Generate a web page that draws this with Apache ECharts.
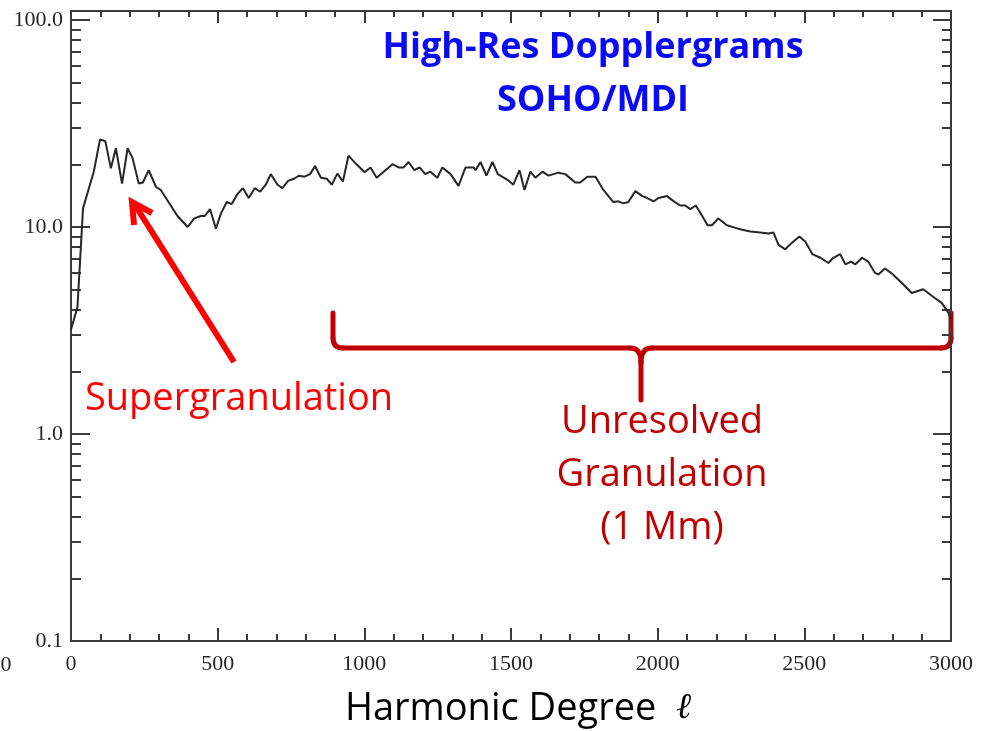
<!DOCTYPE html>
<html>
<head>
<meta charset="utf-8">
<script src="https://cdn.jsdelivr.net/npm/echarts@6/dist/echarts.min.js"></script>
<style>
  html, body { margin: 0; padding: 0; background: #fff; }
  #chart { width: 997px; height: 731px; }
</style>
</head>
<body>
<div id="chart"></div>
<script>
// harmonic degree (l) and power
const degrees = [
  0, 22, 41, 78, 99, 117, 136, 153, 174, 193, 210, 231, 245, 265, 290, 306, 363, 398,
  420, 443, 456, 474, 494, 511, 531, 548, 567, 586, 606, 626, 645, 664, 681, 704,
  721, 740, 760, 778, 796, 815, 832, 852, 872, 889, 908, 927, 946, 970, 1001, 1021,
  1042, 1066, 1096, 1117, 1134, 1151, 1171, 1188, 1208, 1225, 1249, 1266, 1294, 1321,
  1345, 1373, 1379, 1396, 1416, 1437, 1455, 1488, 1508, 1529, 1546, 1566, 1583, 1607,
  1628, 1662, 1685, 1719, 1736, 1760, 1788, 1815, 1849, 1866, 1883, 1900, 1924, 1948,
  1965, 1986, 2003, 2032, 2055, 2077, 2094, 2111, 2130, 2152, 2170, 2185, 2207, 2236,
  2265, 2288, 2316, 2350, 2378, 2395, 2412, 2435, 2458, 2483, 2503, 2527, 2555, 2582,
  2599, 2622, 2640, 2659, 2674, 2697, 2718, 2741, 2752, 2775, 2802, 2836, 2866, 2905,
  2939, 2968, 2989, 3000
];
const power = [
  3.2, 4.1, 12.3, 18.6, 26.5, 26, 19.2, 24, 16.2, 24, 21.5, 16.2, 16.4, 18.8, 15.6, 15.1, 11.3, 10.0,
  11, 11.3, 11.3, 12.2, 9.8, 11.6, 13.2, 12.9, 14.4, 15.4, 13.8, 15.4, 14.8, 16, 18, 16,
  15.4, 16.7, 17.1, 17.7, 17.5, 18, 19.7, 17.3, 17.1, 16, 18.1, 16.6, 22.1, 20.3, 18.4, 19.4,
  17.3, 18.5, 20.1, 19.4, 19.4, 20.6, 18.8, 19.4, 18, 18.5, 17.3, 19.4, 18, 15.8,
  19.4, 19.4, 18.8, 20.6, 17.7, 20.6, 18, 16.9, 16, 18.8, 15.1, 18.5, 17.3, 18.5,
  17.7, 18.3, 18, 16.4, 16.4, 17.5, 17.5, 15.1, 13.2, 13.3, 13, 13.2, 14.9, 14.1,
  13.8, 13.3, 13.8, 14.1, 13.3, 12.7, 12.7, 12.2, 12.7, 11.3, 10.2, 10.2, 11, 10.2,
  9.9, 9.7, 9.5, 9.4, 9.3, 9.4, 8.2, 7.8, 8.4, 9.0, 8.5, 7.4, 7.1, 6.7,
  7.1, 7.4, 6.6, 6.8, 6.6, 7.1, 6.8, 6.0, 5.9, 6.3, 5.9, 5.3, 4.8, 5.0,
  4.6, 4.3, 3.9, 3.6
];
const yTickValues = [0.1, 1, 10, 100];
const yTickLabels = ['0.1', '1.0', '10.0', '100.0'];
const xTickLabels = ['0', '500', '1000', '1500', '2000', '2500', '3000'];

const log10 = Math.log10;
const yMin = -1;
const yMax = log10(110.5);

// minor log ticks 2..9 in every decade
const minorVals = [];
[0.1, 1, 10].forEach(d => {
  for (let k = 2; k <= 9; k++) minorVals.push(log10(k * d));
});
const majorVals = yTickValues.map(v => log10(v));

const axisColor = '#3a3a3a';
const tickFont = { fontFamily: 'Liberation Serif', fontSize: 22, color: '#262626' };

function yAxisDef(position, isMinor, len, withLabel) {
  return {
    type: 'value',
    position: position,
    min: yMin,
    max: yMax,
    interval: 1,
    axisLine: { show: !isMinor, lineStyle: { color: axisColor, width: 2 } },
    axisTick: {
      show: true,
      inside: true,
      length: len,
      customValues: isMinor ? minorVals : majorVals,
      lineStyle: { color: axisColor, width: 2 }
    },
    axisLabel: withLabel ? Object.assign({
      show: true,
      margin: 8,
      customValues: majorVals,
      formatter: v => {
        const i = majorVals.findIndex(m => Math.abs(m - v) < 1e-6);
        return i >= 0 ? yTickLabels[i] : '';
      }
    }, tickFont) : { show: false },
    splitLine: { show: false }
  };
}

function xAxisDef(position, withLabel, len, minorLen) {
  return {
    type: 'value',
    position: position,
    min: 0,
    max: 3000,
    interval: 500,
    axisLine: { show: true, onZero: false, lineStyle: { color: axisColor, width: 2 } },
    axisTick: { show: true, inside: true, length: len, lineStyle: { color: axisColor, width: 2 } },
    minorTick: { show: true, splitNumber: 5, length: minorLen, lineStyle: { color: axisColor, width: 2 } },
    axisLabel: withLabel ? Object.assign({
      show: true,
      margin: 12,
      formatter: v => xTickLabels[Math.round(v / 500)] || ''
    }, tickFont) : { show: false },
    splitLine: { show: false },
    minorSplitLine: { show: false }
  };
}

const braceColor = '#c00000';
const braceStyle = { stroke: braceColor, lineWidth: 5, fill: null, lineCap: 'round' };
function seg(x1, y1, x2, y2) {
  return { type: 'line', shape: { x1, y1, x2, y2 }, style: braceStyle };
}
function curve(x1, y1, cx, cy, x2, y2) {
  return { type: 'bezierCurve', shape: { x1, y1, cpx1: cx, cpy1: cy, x2, y2 }, style: braceStyle };
}

const chart = echarts.init(document.getElementById('chart'), null, { renderer: 'canvas' });

const option = {
  animation: false,
  backgroundColor: '#fff',
  grid: { left: 71, right: 46, top: 11, bottom: 90, outerBoundsMode: 'none' },
  xAxis: [
    xAxisDef('bottom', true, 13, 7),
    xAxisDef('top', false, 12, 6)
  ],
  yAxis: [
    yAxisDef('left', false, 19, true),
    yAxisDef('left', true, 10, false),
    yAxisDef('right', false, 18, false),
    yAxisDef('right', true, 9, false)
  ],
  series: [{
    type: 'line',
    xAxisIndex: 0,
    yAxisIndex: 0,
    data: degrees.map((l, i) => [l, log10(power[i])]),
    showSymbol: false,
    symbol: 'none',
    lineStyle: { color: '#262626', width: 2 },
    clip: false
  }],
  graphic: [
    {
      type: 'text',
      style: {
        x: 593, y: 74, text: 'High-Res Dopplergrams\nSOHO/MDI',
        fontFamily: 'Open Sans', fontWeight: 'bold', fontSize: 36, lineHeight: 53,
        fill: '#0a0af5', align: 'center', verticalAlign: 'middle'
      }
    },
    {
      type: 'text',
      style: {
        x: 239, y: 399, text: 'Supergranulation',
        fontFamily: 'Open Sans', fontSize: 38, fill: '#ff0000',
        align: 'center', verticalAlign: 'middle'
      }
    },
    {
      type: 'text',
      style: {
        x: 662, y: 475, text: 'Unresolved\nGranulation\n(1 Mm)',
        fontFamily: 'Open Sans', fontSize: 38, lineHeight: 53, fill: braceColor,
        align: 'center', verticalAlign: 'middle'
      }
    },
    {
      type: 'text',
      style: {
        x: 518, y: 709, text: '{a|Harmonic Degree  }{l|ℓ}',
        align: 'center', verticalAlign: 'middle',
        rich: {
          a: { fontFamily: 'Open Sans', fontSize: 38, fill: '#000' },
          l: { fontFamily: 'DejaVu Serif', fontStyle: 'italic', fontSize: 36, fill: '#000' }
        }
      }
    },
    {
      type: 'text',
      style: { x: 6, y: 665, text: '0', align: 'center', verticalAlign: 'middle',
        fontFamily: 'Liberation Serif', fontSize: 22, fill: '#262626' }
    },
    // red arrow towards the supergranulation peak
    {
      type: 'line',
      shape: { x1: 234, y1: 362, x2: 135, y2: 205 },
      style: { stroke: '#ff0000', lineWidth: 6 }
    },
    {
      type: 'polyline',
      shape: { points: [[152, 213], [132, 202], [134, 225]] },
      style: { stroke: '#ff0000', lineWidth: 6, fill: null, lineJoin: 'miter' }
    },
    // curly brace under the granulation range
    seg(333, 313, 333, 338),
    curve(333, 338, 333, 348, 343, 348),
    seg(343, 348, 630, 348),
    curve(630, 348, 641, 348, 641, 362),
    seg(641, 362, 641, 400),
    curve(652, 348, 641, 348, 641, 362),
    seg(652, 348, 941, 348),
    curve(941, 348, 951, 348, 951, 338),
    seg(951, 338, 951, 313)
  ]
};

chart.setOption(option);
</script>
</body>
</html>
